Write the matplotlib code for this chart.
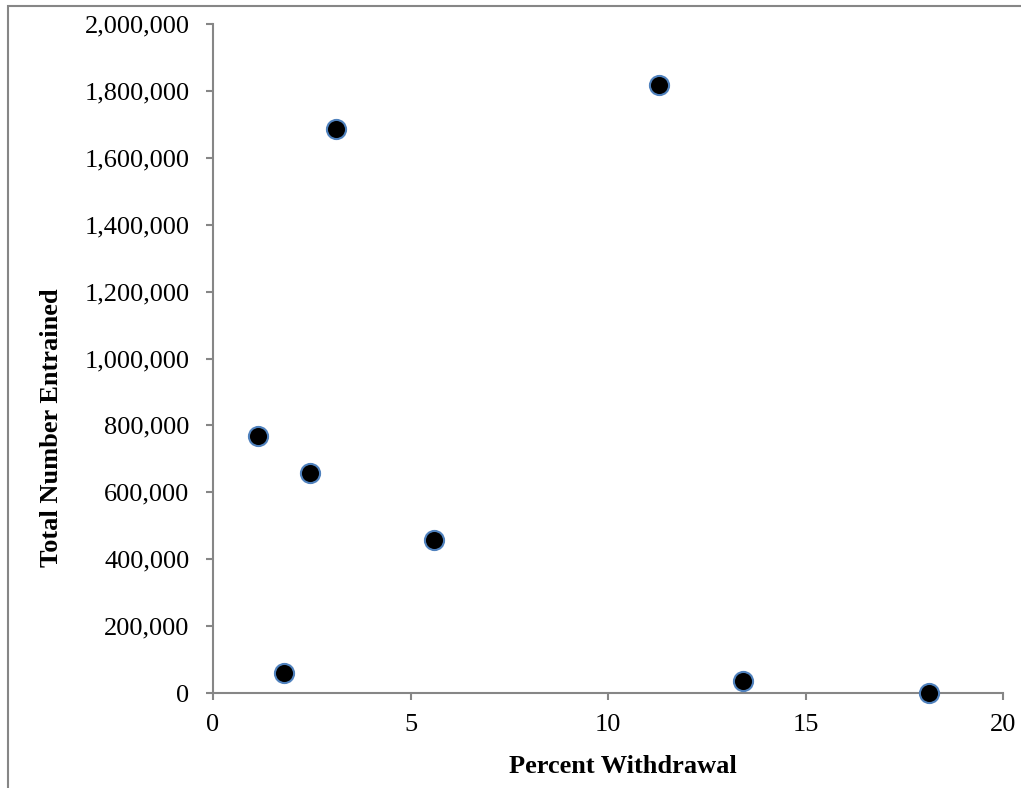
import matplotlib
matplotlib.use('Agg')
import matplotlib.pyplot as plt
from matplotlib.ticker import FuncFormatter
from matplotlib.patches import Rectangle

# Data
percent_withdrawal = [1.14, 1.80, 2.46, 3.11, 5.59, 11.29, 13.42, 18.13]
total_entrained = [768000, 60000, 658000, 1686000, 457000, 1817000, 36000, 0]

plt.rcParams['font.family'] = ['Liberation Serif', 'DejaVu Serif']

fig = plt.figure(figsize=(10.21, 7.88), dpi=100)
ax = fig.add_axes([213 / 1021, 1 - 693 / 788, 790 / 1021, 669 / 788])

# Chart-area frame (only left and top visible in the original crop)
fig.patches.append(Rectangle((8 / 1021, -0.1), 1.2, 1 - 6 / 788 + 0.1,
                             transform=fig.transFigure, fill=False,
                             edgecolor='#868686', linewidth=1.5))

ax.scatter(percent_withdrawal, total_entrained, s=190, color='black',
           edgecolors='#4f81bd', linewidths=1.5, zorder=3, clip_on=False)

ax.set_xlim(0, 20)
ax.set_ylim(0, 2000000)
ax.set_xticks([0, 5, 10, 15, 20])
ax.set_yticks(range(0, 2000001, 200000))
ax.yaxis.set_major_formatter(FuncFormatter(lambda v, p: f'{int(v):,}'))

for side in ['top', 'right']:
    ax.spines[side].set_visible(False)
for side in ['left', 'bottom']:
    ax.spines[side].set_color('#868686')
    ax.spines[side].set_linewidth(1.5)
ax.tick_params(axis='both', colors='#868686', width=1.5, length=5,
               labelcolor='black', labelsize=19)
ax.tick_params(axis='y', pad=12)
ax.tick_params(axis='x', pad=10)

ax.set_xlabel('Percent Withdrawal', fontsize=19, fontweight='bold')
ax.set_ylabel('Total Number Entrained', fontsize=19, fontweight='bold')
# Excel placed the titles slightly off-centre
ax.xaxis.set_label_coords(0.519, -0.092)
ax.yaxis.set_label_coords(-0.19, 0.396)

fig.savefig('out.png', dpi=100)
